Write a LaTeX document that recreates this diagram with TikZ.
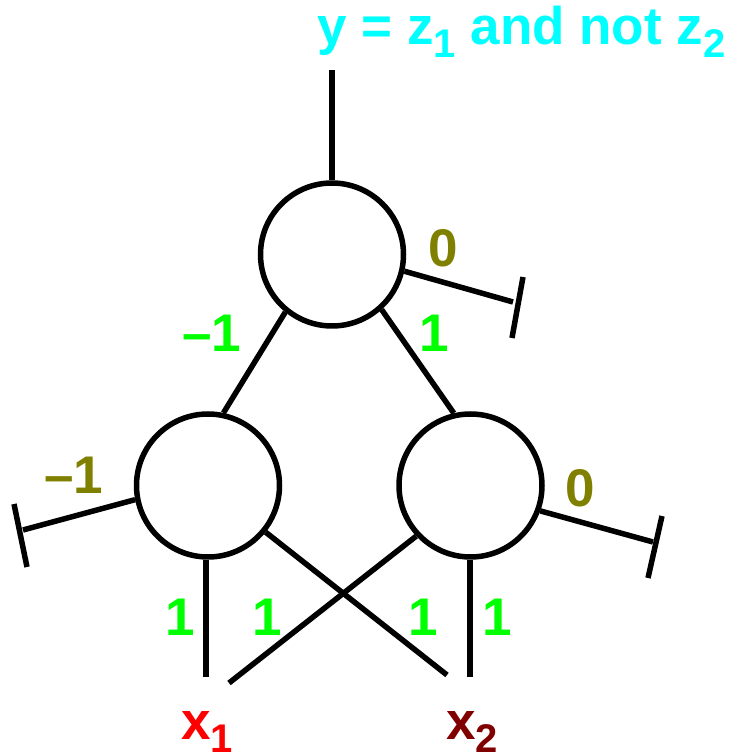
\documentclass[tikz,border=0pt]{standalone}
\usepackage{fontspec}
\setmainfont{Liberation Sans}
\newcommand\sbs[1]{\raisebox{-0.24em}{\fontsize{40}{42}\selectfont #1}}
\begin{document}
\begin{tikzpicture}[x=1pt,y=1pt,
  neuron/.style={draw, circle, line width=5.5pt, minimum size=143pt, inner sep=0pt},
  wire/.style={line width=5.5pt},
  lbl/.style={inner sep=0pt, font=\fontsize{53}{60}\selectfont\bfseries},
  wgt/.style={lbl, text={rgb,255:red,0;green,255;blue,0}},
  bias/.style={lbl, text={rgb,255:red,128;green,128;blue,0}}]
\useasboundingbox (0,0) rectangle (731,753);
% neurons
\node[neuron] (T) at (332,498.5) {};
\node[neuron] (L) at (208,267.5) {};
\node[neuron] (R) at (470.5,267.5) {};
% free ends
\coordinate (out) at (332,683);
\coordinate (tb) at (513,451);
\coordinate (tb1) at (523,476);
\coordinate (tb2) at (512,415);
\coordinate (lb) at (23,223);
\coordinate (lb1) at (14,249);
\coordinate (lb2) at (27,186);
\coordinate (rb) at (653,211);
\coordinate (rb1) at (662,237);
\coordinate (rb2) at (648,175);
\coordinate (xa) at (206,76);
\coordinate (xb) at (470,76);
\coordinate (xc) at (229,70);
\coordinate (xd) at (447,78);
% wires
\draw[wire] (T.north) -- (out);
\draw[wire] (T.231.6) -- (L.78.6);
\draw[wire] (T.312) -- (R.103.2);
\draw[wire] (T.-13.8) -- (tb);
\draw[wire] (tb1) -- (tb2);
\draw[wire] (L.191.2) -- (lb);
\draw[wire] (lb1) -- (lb2);
\draw[wire] (R.-20.1) -- (rb);
\draw[wire] (rb1) -- (rb2);
\draw[wire] (xa |- L.south) -- (xa);
\draw[wire] (xb |- R.south) -- (xb);
\draw[wire] (R.223.9) -- (xc);
\draw[wire] (L.-39.2) -- (xd);
% labels
\node[lbl, anchor=base west, text={rgb,255:red,0;green,255;blue,255}] (title) at (317,708)
  {y = z\sbs{1} and not z\sbs{2}};
\node[bias] (b0) at (443,505) {0};
\node[wgt] (wl) at (212,420) {–1};
\node[wgt] (wr) at (434,420) {1};
\node[bias] (b1) at (74,278) {–1};
\node[bias] (b2) at (580,265) {0};
\node[wgt] (w1) at (180,136) {1};
\node[wgt] (w2) at (267,136) {1};
\node[wgt] (w3) at (423,136) {1};
\node[wgt] (w4) at (497,136) {1};
\node[lbl, anchor=base west, text={rgb,255:red,255;green,0;blue,0}] (x1) at (181,13) {x\sbs{1}};
\node[lbl, anchor=base west, text={rgb,255:red,128;green,0;blue,0}] (x2) at (446,13) {x\sbs{2}};
\end{tikzpicture}
\end{document}
